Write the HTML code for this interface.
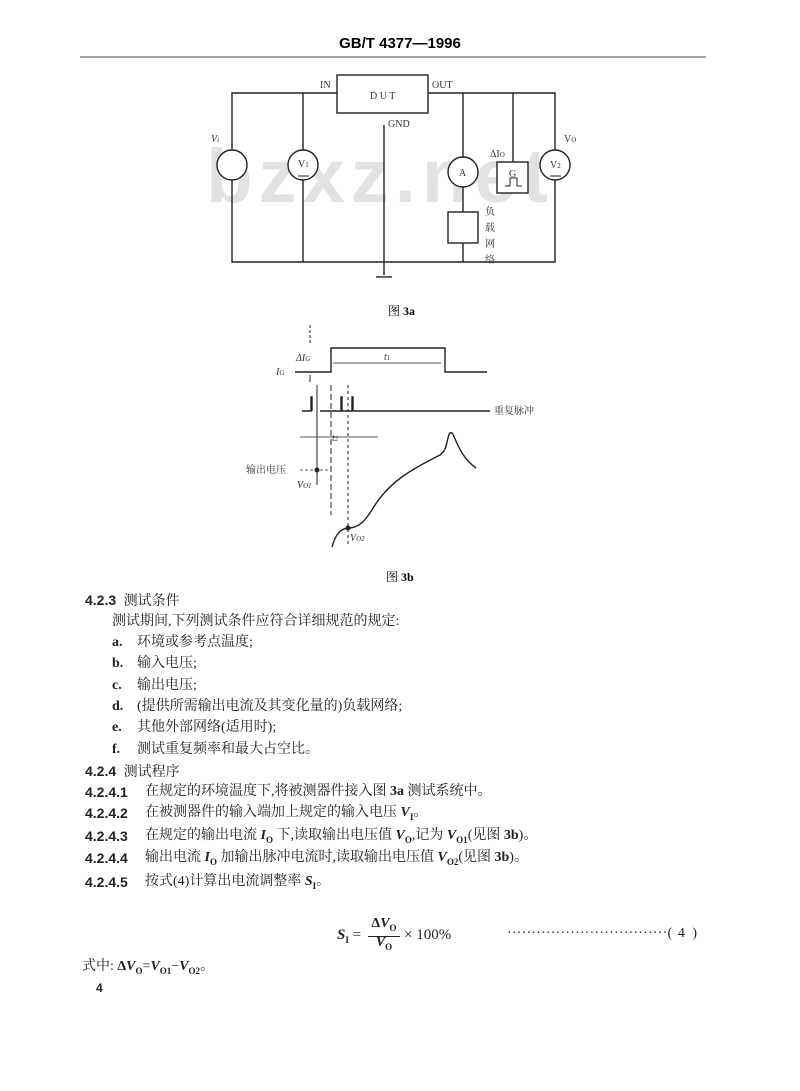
<!DOCTYPE html>
<html><head><meta charset="utf-8"><style>
html,body{margin:0;padding:0;background:#fff;}
body{width:800px;height:1091px;position:relative;overflow:hidden;font-family:"Liberation Serif","Noto Serif CJK SC",serif;color:#222;}
.t{position:absolute;font-size:14px;line-height:16px;white-space:nowrap;font-family:"Liberation Serif","Noto Serif CJK SC",serif;}
.b{font-weight:bold;font-family:"Liberation Sans","Noto Sans CJK SC",sans-serif;}
i{font-weight:bold;}
sub{font-size:9px;}
</style></head><body>
<svg width="800" height="1091" style="position:absolute;left:0;top:0" font-family="Liberation Serif, Noto Serif CJK SC, serif">
<text x="400" y="48" text-anchor="middle" font-family="Liberation Sans, sans-serif" font-weight="bold" font-size="15">GB/T  4377—1996</text>
<line x1="80" y1="57" x2="706" y2="57" stroke="#888" stroke-width="1.5"/>
<!-- watermark -->
<text x="380" y="202" text-anchor="middle" font-family="Liberation Sans, sans-serif" font-weight="bold" font-size="76" fill="#e2e2e2" letter-spacing="6">bzxz.net</text>
<g stroke="#222" stroke-width="1.4" fill="none">
<rect x="337" y="75" width="91" height="38"/>
<polyline points="337,93 232,93 232,262 555,262 555,93 428,93"/>
<line x1="303" y1="93" x2="303" y2="262"/>
<line x1="384" y1="125" x2="384" y2="275"/>
<line x1="376" y1="277" x2="392" y2="277"/>
<line x1="463" y1="93" x2="463" y2="262"/>
<line x1="513" y1="93" x2="513" y2="162"/>
<circle cx="232" cy="165" r="15" fill="#fff"/>
<circle cx="303" cy="165" r="15" fill="#fff"/>
<circle cx="463" cy="172" r="15" fill="#fff"/>
<circle cx="555" cy="165" r="15" fill="#fff"/>
<rect x="448" y="212" width="30" height="31" fill="#fff"/>
<rect x="497" y="162" width="31" height="31" fill="#fff"/>
<polyline points="505,186 510,186 510,178 517,178 517,186 522,186" stroke-width="1"/>
<line x1="298" y1="176" x2="309" y2="176" stroke-width="1"/>
<line x1="550" y1="176" x2="561" y2="176" stroke-width="1"/>
</g>
<g font-size="10" fill="#333">
<text x="320" y="88">IN</text>
<text x="432" y="88">OUT</text>
<text x="370" y="99">D  U  T</text>
<text x="388" y="127">GND</text>
<text x="211" y="142" font-style="italic">V<tspan font-size="7">i</tspan></text>
<text x="298" y="167">V<tspan font-size="7">1</tspan></text>
<text x="459" y="176">A</text>
<text x="509" y="177">G</text>
<text x="490" y="157">ΔI<tspan font-size="7">O</tspan></text>
<text x="564" y="142">V<tspan font-size="7">O</tspan></text>
<text x="550" y="168">V<tspan font-size="7">2</tspan></text>
<text x="485" y="215">负</text><text x="485" y="231">载</text><text x="485" y="247">网</text><text x="485" y="263">络</text>
</g>
<text x="388" y="315" font-size="12">图 <tspan font-weight="bold">3a</tspan></text>
<!-- waveform -->
<g stroke="#222" stroke-width="1.4" fill="none">
<polyline points="295,372 331,372 331,348 445,348 445,372 487,372"/>
<line x1="310" y1="325" x2="310" y2="345" stroke-dasharray="3,2" stroke-width="1"/>
<line x1="310" y1="375" x2="310" y2="382" stroke-width="1"/>
<line x1="333" y1="363" x2="441" y2="363" stroke-width="0.8"/>
<polyline points="302,411 311,411 311,397 312,397 312,411"/>
<polyline points="320,411 341,411 341,397 342,397 342,411 352,411"/>
<polyline points="352,411 352,397 353,397 353,411 490,411"/>
<line x1="317" y1="385" x2="317" y2="485" stroke-width="1"/>
<line x1="331" y1="385" x2="331" y2="515" stroke-width="1" stroke-dasharray="6,3"/>
<line x1="348" y1="385" x2="348" y2="545" stroke-width="1" stroke-dasharray="3,3"/>
<line x1="300" y1="437" x2="378" y2="437" stroke-width="0.8"/>
<line x1="300" y1="470" x2="330" y2="470" stroke-width="0.8" stroke-dasharray="3,2"/>
<path d="M332,547 C336,532 342,528 350,528 C360,527 366,520 375,505 C390,482 410,470 440,455 L443,452 C447,450 448,430 451,433 C454,430 457,455 476,468"/>
</g>
<circle cx="317" cy="470" r="2.5" fill="#222"/>
<circle cx="348" cy="528" r="2.5" fill="#222"/>
<g font-size="10" fill="#333">
<text x="296" y="361" font-style="italic">ΔI<tspan font-size="7">G</tspan></text>
<text x="276" y="375" font-style="italic">I<tspan font-size="7">G</tspan></text>
<text x="384" y="360" font-style="italic">t<tspan font-size="7">1</tspan></text>
<text x="332" y="441" font-style="italic">t<tspan font-size="7">2</tspan></text>
<text x="494" y="414">重复脉冲</text>
<text x="246" y="473">输出电压</text>
<text x="297" y="488" font-style="italic">V<tspan font-size="7">O1</tspan></text>
<text x="350" y="541" font-style="italic">V<tspan font-size="7">O2</tspan></text>
</g>
<text x="386" y="581" font-size="12">图 <tspan font-weight="bold">3b</tspan></text>
</svg>
<div class="t b" style="left:85px;top:592px">4.2.3 <span style="font-weight:normal;font-family:'Noto Serif CJK SC',serif">&nbsp;测试条件</span></div>
<div class="t" style="left:112px;top:614px">测试期间,下列测试条件应符合详细规范的规定:</div>
<div class="t" style="left:112px;top:635px"><b>a.</b></div><div class="t" style="left:137px;top:635px">环境或参考点温度;</div>
<div class="t" style="left:112px;top:656px"><b>b.</b></div><div class="t" style="left:137px;top:656px">输入电压;</div>
<div class="t" style="left:112px;top:678px"><b>c.</b></div><div class="t" style="left:137px;top:678px">输出电压;</div>
<div class="t" style="left:112px;top:699px"><b>d.</b></div><div class="t" style="left:137px;top:699px">(提供所需输出电流及其变化量的)负载网络;</div>
<div class="t" style="left:112px;top:720px"><b>e.</b></div><div class="t" style="left:137px;top:720px">其他外部网络(适用时);</div>
<div class="t" style="left:112px;top:742px"><b>f.</b></div><div class="t" style="left:137px;top:742px">测试重复频率和最大占空比。</div>
<div class="t b" style="left:85px;top:763px">4.2.4 <span style="font-weight:normal;font-family:'Noto Serif CJK SC',serif">&nbsp;测试程序</span></div>
<div class="t b" style="left:85px;top:784px">4.2.4.1</div><div class="t" style="left:145px;top:784px">在规定的环境温度下,将被测器件接入图 <b>3a</b> 测试系统中。</div>
<div class="t b" style="left:85px;top:805px">4.2.4.2</div><div class="t" style="left:145px;top:805px">在被测器件的输入端加上规定的输入电压 <i>V</i><sub><b>I</b></sub>。</div>
<div class="t b" style="left:85px;top:828px">4.2.4.3</div><div class="t" style="left:145px;top:828px">在规定的输出电流 <i>I</i><sub><b>O</b></sub> 下,读取输出电压值 <i>V</i><sub><b>O</b></sub>,记为 <i>V</i><sub><b>O1</b></sub>(见图 <b>3b</b>)。</div>
<div class="t b" style="left:85px;top:850px">4.2.4.4</div><div class="t" style="left:145px;top:850px">输出电流 <i>I</i><sub><b>O</b></sub> 加输出脉冲电流时,读取输出电压值 <i>V</i><sub><b>O2</b></sub>(见图 <b>3b</b>)。</div>
<div class="t b" style="left:85px;top:874px">4.2.4.5</div><div class="t" style="left:145px;top:874px">按式(4)计算出电流调整率 <i>S</i><sub><b>I</b></sub>。</div>
<div class="t" style="left:337px;top:927px;font-size:15px"><i>S</i><sub><b>I</b></sub> =</div>
<div class="t" style="left:368px;top:916px;font-size:14px;text-align:center;width:32px;border-bottom:1px solid #222;line-height:16px"><b>Δ</b><i>V</i><sub><b>O</b></sub></div>
<div class="t" style="left:368px;top:935px;font-size:14px;text-align:center;width:32px"><i>V</i><sub><b>O</b></sub></div>
<div class="t" style="left:404px;top:927px;font-size:15px">× 100%</div>
<div class="t" style="left:507px;top:926px;font-size:14px;letter-spacing:0.2px">·································(<span style="letter-spacing:2px"> 4 </span>)</div>
<div class="t" style="left:82px;top:959px">式中: <b>Δ</b><i>V</i><sub><b>O</b></sub>=<i>V</i><sub><b>O1</b></sub>−<i>V</i><sub><b>O2</b></sub>。</div>
<div class="t b" style="left:96px;top:980px;font-size:12px">4</div>
</body></html>
